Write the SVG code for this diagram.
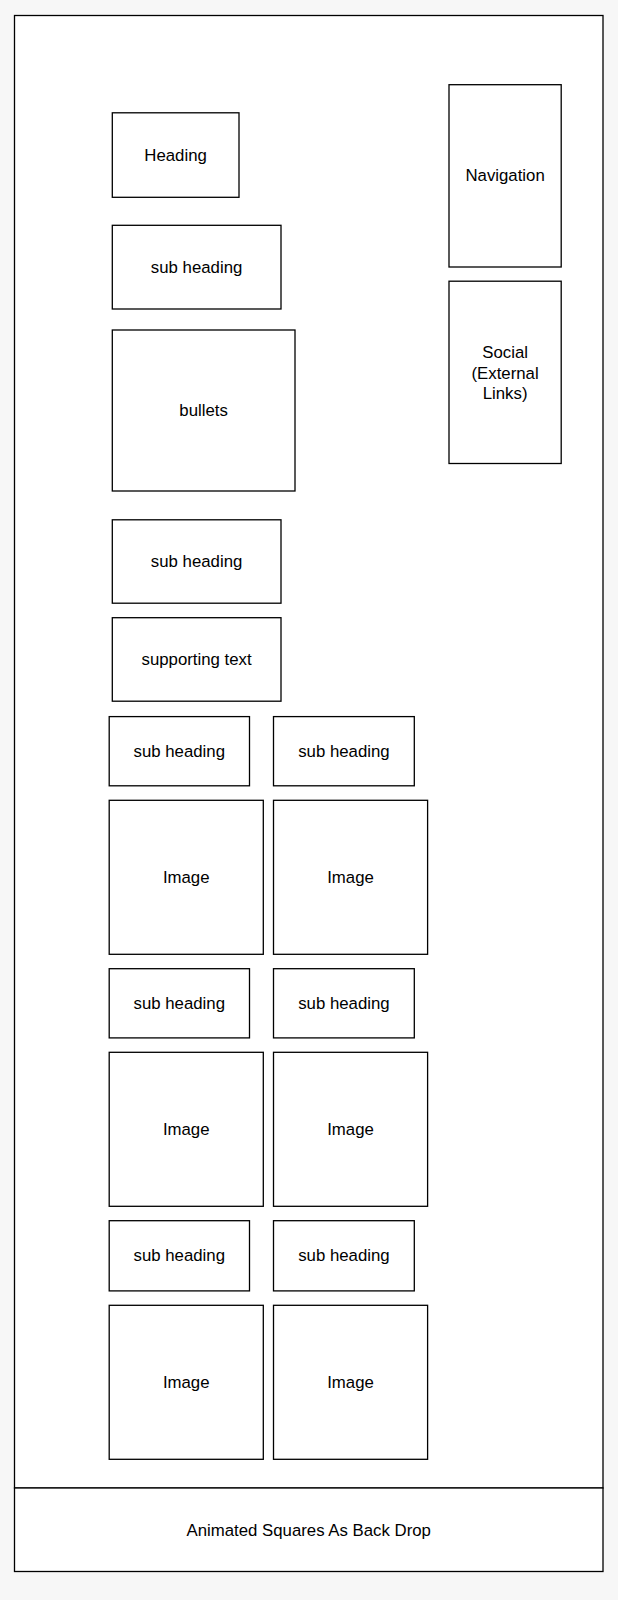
<svg xmlns="http://www.w3.org/2000/svg" width="618" height="1600" viewBox="0 0 618 1600">
<style>
.b{fill:#fff;stroke:#000;stroke-width:1.3}
.t{font-family:"Liberation Sans",Arial,sans-serif;font-size:16.8px;fill:#000;text-anchor:middle;dominant-baseline:central}
</style>
<rect x="0" y="0" width="618" height="1600" fill="#f7f7f7"/>
<g id="page"><rect class="b" x="14.5" y="15.5" width="588.5" height="1472.5"/></g>
<g id="footer"><rect class="b" x="14.5" y="1488" width="588.5" height="83.5"/><text class="t" x="308.7" y="1530">Animated Squares As Back Drop</text></g>
<g id="heading"><rect class="b" x="112.3" y="112.8" width="126.7" height="84.5"/><text class="t" x="175.6" y="155">Heading</text></g>
<g id="subheading1"><rect class="b" x="112.3" y="225.3" width="168.7" height="83.7"/><text class="t" x="196.6" y="267.3">sub heading</text></g>
<g id="bullets"><rect class="b" x="112.3" y="330" width="182.7" height="161"/><text class="t" x="203.6" y="410.8">bullets</text></g>
<g id="subheading2"><rect class="b" x="112.3" y="519.8" width="168.7" height="83.4"/><text class="t" x="196.6" y="561.6">sub heading</text></g>
<g id="supporting"><rect class="b" x="112.3" y="617.7" width="168.7" height="83.5"/><text class="t" x="196.6" y="659.6">supporting text</text></g>
<g id="navigation"><rect class="b" x="449" y="84.7" width="112.2" height="182.3"/><text class="t" x="505.1" y="175.9">Navigation</text></g>
<g id="social"><rect class="b" x="449" y="281.2" width="112.2" height="182.3"/><text class="t" x="505.1"><tspan x="505.1" y="352.3">Social</tspan><tspan x="505.1" y="372.5">(External</tspan><tspan x="505.1" y="392.7">Links)</tspan></text></g>
<g id="sub-r1-a"><rect class="b" x="109.2" y="716.6" width="140.3" height="69.2"/><text class="t" x="179.3" y="751.3">sub heading</text></g>
<g id="sub-r1-b"><rect class="b" x="273.5" y="716.6" width="140.8" height="69.2"/><text class="t" x="343.9" y="751.3">sub heading</text></g>
<g id="img-r1-a"><rect class="b" x="109.2" y="800.3" width="154.1" height="154"/><text class="t" x="186.2" y="877.3">Image</text></g>
<g id="img-r1-b"><rect class="b" x="273.5" y="800.3" width="154.1" height="154"/><text class="t" x="350.5" y="877.3">Image</text></g>
<g id="sub-r2-a"><rect class="b" x="109.2" y="968.7" width="140.3" height="69.2"/><text class="t" x="179.3" y="1003.4">sub heading</text></g>
<g id="sub-r2-b"><rect class="b" x="273.5" y="968.7" width="140.8" height="69.2"/><text class="t" x="343.9" y="1003.4">sub heading</text></g>
<g id="img-r2-a"><rect class="b" x="109.2" y="1052.3" width="154.1" height="154"/><text class="t" x="186.2" y="1129.3">Image</text></g>
<g id="img-r2-b"><rect class="b" x="273.5" y="1052.3" width="154.1" height="154"/><text class="t" x="350.5" y="1129.3">Image</text></g>
<g id="sub-r3-a"><rect class="b" x="109.2" y="1220.7" width="140.3" height="70.2"/><text class="t" x="179.3" y="1255.9">sub heading</text></g>
<g id="sub-r3-b"><rect class="b" x="273.5" y="1220.7" width="140.8" height="70.2"/><text class="t" x="343.9" y="1255.9">sub heading</text></g>
<g id="img-r3-a"><rect class="b" x="109.2" y="1305.3" width="154.1" height="154"/><text class="t" x="186.2" y="1382.3">Image</text></g>
<g id="img-r3-b"><rect class="b" x="273.5" y="1305.3" width="154.1" height="154"/><text class="t" x="350.5" y="1382.3">Image</text></g>
<g id="connectors"/>
</svg>
